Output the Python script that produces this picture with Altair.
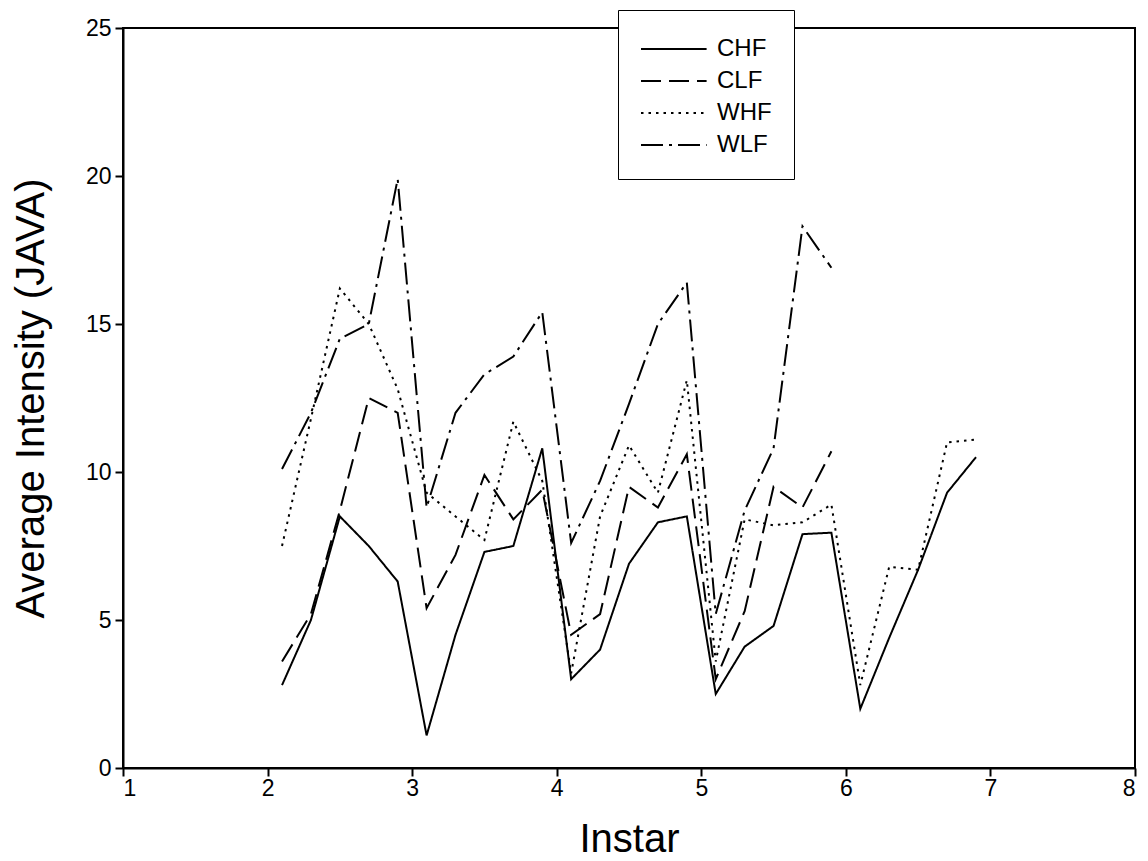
import altair as alt
import pandas as pd

instar = [2.1, 2.3, 2.5, 2.7, 2.9, 3.1, 3.3, 3.5, 3.7, 3.9,
          4.1, 4.3, 4.5, 4.7, 4.9, 5.1, 5.3, 5.5, 5.7, 5.9,
          6.1, 6.3, 6.5, 6.7, 6.9]

chf = [2.8, 5.0, 8.5, 7.5, 6.3, 1.1, 4.5, 7.3, 7.5, 10.8,
       3.0, 4.0, 6.9, 8.3, 8.5, 2.5, 4.1, 4.8, 7.9, 7.95,
       2.0, 4.4, 6.7, 9.3, 10.5]
clf = [3.6, 5.2, 8.7, 12.5, 12.0, 5.4, 7.2, 9.9, 8.4, 9.4,
       4.5, 5.2, 9.5, 8.8, 10.6, 3.0, 5.3, 9.5, 8.8, 10.7]
whf = [7.5, 11.8, 16.2, 15.0, 12.8, 9.3, 8.5, 7.7, 11.7, 9.7,
       3.2, 8.5, 10.9, 9.3, 13.1, 3.6, 8.4, 8.2, 8.3, 8.9,
       2.8, 6.8, 6.7, 11.0, 11.1]
wlf = [10.1, 12.0, 14.5, 15.0, 19.9, 8.8, 12.0, 13.3, 13.9, 15.4,
       7.6, 9.7, 12.3, 15.0, 16.4, 5.2, 8.7, 10.8, 18.3, 16.9]

series_names = ["CHF", "CLF", "WHF", "WLF"]
series_values = [chf, clf, whf, wlf]
dash_styles = [[1, 0], [20, 8], [2.5, 5], [22, 6, 3, 6]]

x_ticks = [1, 2, 3, 4, 5, 6, 7, 8]
y_ticks = [0, 5, 10, 15, 20, 25]

rows = []
for name, vals in zip(series_names, series_values):
    for xv, yv in zip(instar, vals):
        rows.append({"series": name, "instar": xv, "intensity": yv})
df = pd.DataFrame(rows)

FONT = "Liberation Sans"
axis_style = dict(grid=False, tickSize=8, tickWidth=2, tickColor="black",
                  domainColor="black", domainWidth=2,
                  labelColor="black", titleColor="black",
                  labelFont=FONT, titleFont=FONT, labelFontSize=23,
                  titleFontWeight="normal")

chart = alt.Chart(df).mark_line(color="black", strokeWidth=2).encode(
    x=alt.X("instar:Q",
            scale=alt.Scale(domain=[1, 8], nice=False, zero=False),
            axis=alt.Axis(title="Instar", values=x_ticks, format="d",
                          labelPadding=1, titleFontSize=40,
                          titleX=506, titleY=71, titleBaseline="middle",
                          **axis_style)),
    y=alt.Y("intensity:Q",
            scale=alt.Scale(domain=[0, 25], nice=False),
            axis=alt.Axis(title="Average Intensity (JAVA)", values=y_ticks, format="d",
                          labelPadding=4, titleFontSize=40,
                          titleX=-92, titleY=370, titleAngle=270,
                          titleAlign="center", titleBaseline="middle",
                          **axis_style)),
    strokeDash=alt.StrokeDash("series:N",
                              scale=alt.Scale(domain=series_names, range=dash_styles),
                              legend=alt.Legend(title=None, orient="none",
                                                legendX=495, legendY=-18,
                                                strokeColor="black", fillColor="white",
                                                padding=22, symbolType="M-1,0H3.1",
                                                symbolSize=1024, symbolStrokeWidth=2,
                                                symbolStrokeColor="black",
                                                labelFontSize=24, labelFont=FONT,
                                                labelColor="black",
                                                labelOffset=43, rowPadding=3)),
    detail="series:N",
).properties(
    width=1012, height=740,
    background="white",
    autosize=alt.AutoSizeParams(type="none"),
    padding={"left": 123, "top": 28, "right": 13, "bottom": 93},
).configure_view(
    stroke="black", strokeWidth=2
)

chart.save("out.html", embed_options={"renderer": "svg", "actions": False})
